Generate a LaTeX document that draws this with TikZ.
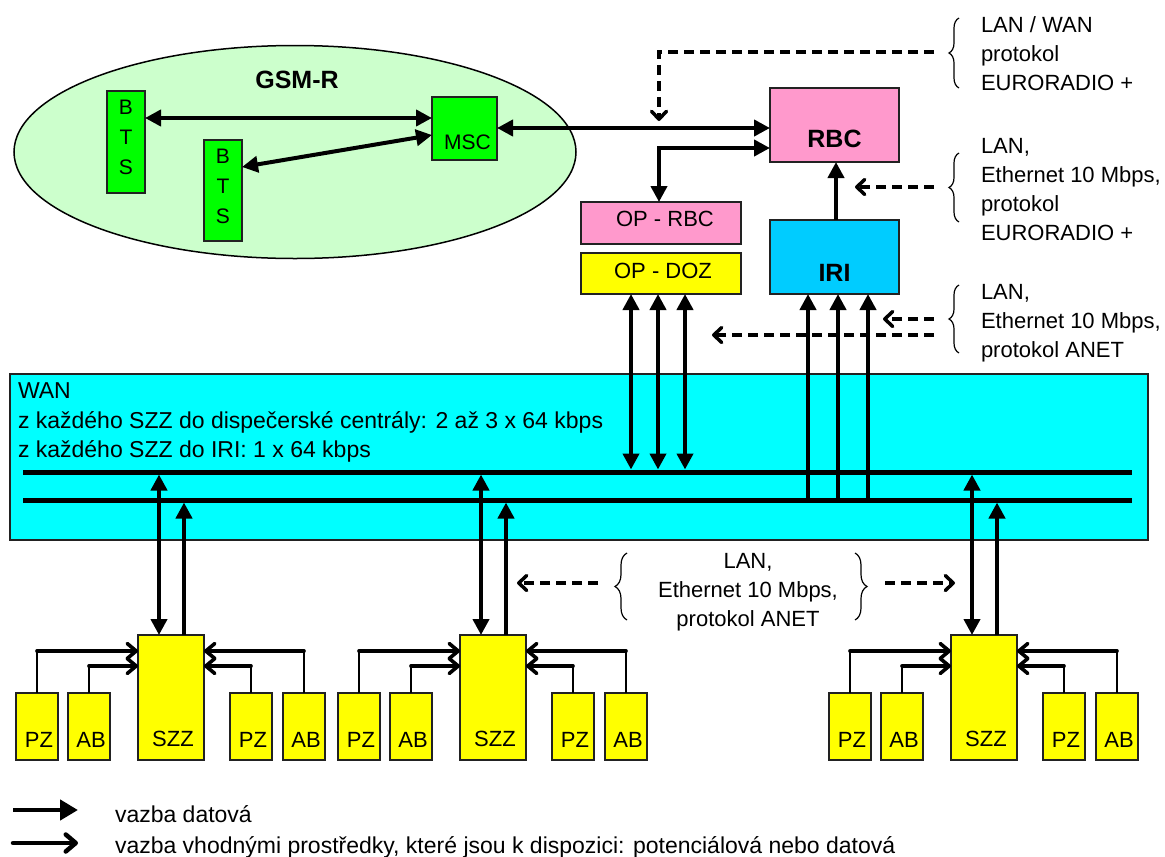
\documentclass[tikz,border=0pt]{standalone}
\usepackage{fontspec}
\setmainfont{Liberation Sans}
\usetikzlibrary{arrows.meta,calc,decorations.pathreplacing,shapes.geometric}

\definecolor{gsmbg}{HTML}{CCFFCC}
\definecolor{gsmbox}{HTML}{00FF00}
\definecolor{pinkbox}{HTML}{FF99CC}
\definecolor{yelbox}{HTML}{FFFF00}
\definecolor{iribox}{HTML}{00CCFF}
\definecolor{wanbox}{HTML}{00FFFF}
\definecolor{rim}{HTML}{222222}

\newcommand\fsz[1]{\fontsize{#1}{#1}\selectfont}

\tikzset{
  every node/.style={inner sep=0pt, outer sep=0pt},
  box/.style={draw=rim, line width=1.8pt, anchor=north west},
  txt/.style={font=\fsz{22}},
  wide/.style={font=\fsz{23}},
  bold/.style={font=\fsz{25}\bfseries},
  data/.style={line width=4pt, >={Triangle[length=16pt,width=16pt]}},
  feed/.style={line width=3.6pt, line cap=round, >={Straight Barb[length=9pt,width=15pt,round]}},
  riser/.style={line width=2pt},
  dsh/.style={line width=3.5pt, dash pattern=on 10pt off 6pt, >={Straight Barb[length=8pt,width=15pt,round]}},
  bus/.style={line width=5pt},
  brc/.style={line width=1.2pt, decorate, decoration={brace, amplitude=10pt}},
}

% one interlocking station: SZZ with its two PZ and two AB units
% #1 name suffix, #2 left edge of the SZZ box
\newcommand\stanice[2]{%
  \node[box, fill=yelbox, minimum width=42pt, minimum height=67pt] (pz1#1) at ({#2-122},693) {};
  \node[box, fill=yelbox, minimum width=42pt, minimum height=67pt] (ab1#1) at ({#2-70},693) {};
  \node[box, fill=yelbox, minimum width=66pt, minimum height=125pt] (szz#1) at (#2,635) {};
  \node[box, fill=yelbox, minimum width=42pt, minimum height=67pt] (pz2#1) at ({#2+92},693) {};
  \node[box, fill=yelbox, minimum width=42pt, minimum height=67pt] (ab2#1) at ({#2+145},693) {};
  \foreach \n/\lab in {pz1/PZ, ab1/AB, pz2/PZ, ab2/AB}{
    \node[txt] (\n#1-t) at ($(\n#1.center)+(2,13)$) {\lab};
  }
  \node[txt] (szz#1-t) at ($(szz#1.south)+(2,-21)$) {SZZ};
  % feeders from PZ and AB
  \coordinate (k1#1) at ($(pz1#1.north)+(0,-42)$);
  \coordinate (k2#1) at ($(ab1#1.north)+(0,-27)$);
  \coordinate (k3#1) at ($(pz2#1.north)+(0,-27)$);
  \coordinate (k4#1) at ($(ab2#1.north)+(0,-42)$);
  \draw[riser] (pz1#1.north) -- (k1#1);
  \draw[riser] (ab1#1.north) -- (k2#1);
  \draw[riser] (pz2#1.north) -- (k3#1);
  \draw[riser] (ab2#1.north) -- (k4#1);
  \draw[feed,->] (k1#1) -- (k1#1 -| szz#1.west);
  \draw[feed,->] (k2#1) -- (k2#1 -| szz#1.west);
  \draw[feed,->] (k3#1) -- (k3#1 -| szz#1.east);
  \draw[feed,->] (k4#1) -- (k4#1 -| szz#1.east);
  % links up to the WAN buses
  \coordinate (u1#1) at ($(szz#1.north west)+(21,0)$);
  \coordinate (u2#1) at ($(szz#1.north west)+(46,0)$);
  \draw[data,<->,shorten <=2.5pt] (u1#1 |- bus1w) -- (u1#1);
  \draw[data,->,shorten >=2.5pt] (u2#1) -- (u2#1 |- bus2w);
}

\begin{document}
\begin{tikzpicture}[x=1pt,y=-1pt]
\useasboundingbox (0,0) rectangle (1165,857);

% ---------------- GSM-R network ----------------
\node[ellipse, draw=black, line width=1.5pt, fill=gsmbg,
      minimum width=562pt, minimum height=213pt] (gsm) at (295,152) {};
\node[bold] (gsm-t) at (297,80) {GSM-R};

\node[box, fill=gsmbox, minimum width=38pt, minimum height=102pt] (bts1) at (107,91) {};
\node[box, fill=gsmbox, minimum width=38pt, minimum height=101pt] (bts2) at (204,140) {};
\node[box, fill=gsmbox, minimum width=65pt, minimum height=63pt] (msc) at (432,97) {};
\node[align=center, font=\fontsize{21}{30}\selectfont] (bts1-t) at ($(bts1.center)+(0,-5)$) {B\\T\\S};
\node[align=center, font=\fontsize{21}{30}\selectfont] (bts2-t) at ($(bts2.center)+(0,-4)$) {B\\T\\S};
\node[font=\fsz{21}] (msc-t) at ($(msc.center)+(3,14)$) {MSC};

% ---------------- RBC, IRI and operator posts ----------------
\node[box, fill=pinkbox, minimum width=129pt, minimum height=74pt] (rbc) at (770,88) {};
\node[bold] (rbc-t) at ($(rbc.center)+(0,14)$) {RBC};
\node[box, fill=iribox, minimum width=129pt, minimum height=74pt] (iri) at (770,220) {};
\node[bold] (iri-t) at ($(iri.center)+(0,16)$) {IRI};
\node[box, fill=pinkbox, minimum width=160pt, minimum height=42pt] (oprbc) at (581,202) {};
\node[txt] (oprbc-t) at ($(oprbc.center)+(4,-4)$) {OP - RBC};
\node[box, fill=yelbox, minimum width=160pt, minimum height=41pt] (opdoz) at (581,253) {};
\node[txt] (opdoz-t) at ($(opdoz.center)+(2,-3)$) {OP - DOZ};

% radio links inside GSM-R and on to RBC
\draw[data,<->] ($(bts1.north east)+(0,27)$) -- ($(msc.north west)+(0,21)$);
\draw[data,<->] ($(bts2.north east)+(0,27)$) -- ($(msc.north west)+(0,38)$);
\draw[data,<->] ($(msc.north east)+(0,31)$) -- ($(rbc.north west)+(0,40)$);
\draw[data,<->] ($(rbc.north west)+(0,60)$) -| ($(oprbc.north)+(-2,0)$);
\draw[data,->] ($(iri.north west)+(66,0)$) -- ($(rbc.south west)+(66,0)$);

% ---------------- WAN ----------------
\node[box, fill=wanbox, minimum width=1138pt, minimum height=166pt] (wan) at (10,374) {};
\node[wide, anchor=base west] (wan-1) at (18,398) {WAN};
\node[wide, anchor=base west] (wan-2) at (18,428) {z každého SZZ do dispečerské centrály: 2 až 3 x 64 kbps};
\node[wide, anchor=base west] (wan-3) at (18,457) {z každého SZZ do IRI: 1 x 64 kbps};

\coordinate (bus1w) at (23,472);  \coordinate (bus1e) at (1132,472);
\coordinate (bus2w) at (23,500);  \coordinate (bus2e) at (1132,500);
\draw[bus] (bus1w) -- (bus1e);
\draw[bus] (bus2w) -- (bus2e);

% operator posts and IRI hooked to the buses
\foreach \i/\dx in {1/50, 2/77, 3/104}{
  \coordinate (d\i) at ($(opdoz.south west)+(\dx,0)$);
  \draw[data,<->,shorten >=2.5pt] (d\i) -- (d\i |- bus1w);
}
\foreach \i/\dx in {1/38, 2/68, 3/98}{
  \coordinate (r\i) at ($(iri.south west)+(\dx,0)$);
  \draw[data,->] (r\i |- bus2w) -- (r\i);
}

% ---------------- stations ----------------
\stanice{a}{138}
\stanice{b}{460}
\stanice{c}{951}

% ---------------- interface notes ----------------
\coordinate (br1a) at (959,88);  \coordinate (br1b) at (959,18);
\coordinate (br2a) at (959,222); \coordinate (br2b) at (959,153);
\coordinate (br3a) at (959,353); \coordinate (br3b) at (959,285);
\draw[brc] (br1a) -- (br1b);
\draw[brc] (br2a) -- (br2b);
\draw[brc] (br3a) -- (br3b);

\coordinate (q1) at (934,52);   \coordinate (q1e) at (659,121);
\coordinate (q2) at (934,187);  \coordinate (q2e) at (855,187);
\coordinate (q3) at (934,319);  \coordinate (q3e) at (883,319);
\coordinate (q4) at (934,335);  \coordinate (q4e) at (712,335);
\draw[dsh,->] (q1) -| (q1e);
\draw[dsh,->] (q2) -- (q2e);
\draw[dsh,->] (q3) -- (q3e);
\draw[dsh,->] (q4) -- (q4e);

\node[txt, anchor=base west] (n1-1) at (981,32) {LAN / WAN};
\node[txt, anchor=base west] (n1-2) at (981,61) {protokol};
\node[txt, anchor=base west] (n1-3) at (981,90) {EURORADIO +};
\node[txt, anchor=base west] (n2-1) at (981,153) {LAN,};
\node[txt, anchor=base west] (n2-2) at (981,182) {Ethernet 10 Mbps,};
\node[txt, anchor=base west] (n2-3) at (981,211) {protokol};
\node[txt, anchor=base west] (n2-4) at (981,240) {EURORADIO +};
\node[txt, anchor=base west] (n3-1) at (981,299) {LAN,};
\node[txt, anchor=base west] (n3-2) at (981,328) {Ethernet 10 Mbps,};
\node[txt, anchor=base west] (n3-3) at (981,357) {protokol ANET};

% LAN between stations
\coordinate (bm1a) at (627,620); \coordinate (bm1b) at (627,553);
\coordinate (bm2a) at (855,553); \coordinate (bm2b) at (855,620);
\draw[brc, decoration={brace, amplitude=12pt}] (bm1a) -- (bm1b);
\draw[brc, decoration={brace, amplitude=12pt}] (bm2a) -- (bm2b);
\node[txt, anchor=base] (m-1) at (748,568) {LAN,};
\node[txt, anchor=base] (m-2) at (748,597) {Ethernet 10 Mbps,};
\node[txt, anchor=base] (m-3) at (748,626) {protokol ANET};
\coordinate (ml) at (598,583); \coordinate (mle) at (517,583);
\coordinate (mr) at (885,583); \coordinate (mre) at (955,583);
\draw[dsh,->] (ml) -- (mle);
\draw[dsh,->] (mr) -- (mre);

% ---------------- legend ----------------
\coordinate (lg1a) at (13,810); \coordinate (lg1b) at (78,810);
\coordinate (lg2a) at (13,843); \coordinate (lg2b) at (78,843);
\draw[line width=4.8pt, -{Triangle[length=18pt,width=20pt]}] (lg1a) -- (lg1b);
\draw[feed, line width=4.5pt, -{Straight Barb[length=10pt,width=17pt,round]}] (lg2a) -- (lg2b);
\node[wide, anchor=base west] (lg1-t) at (115,822) {vazba datová};
\node[wide, anchor=base west] (lg2-t) at (115,853) {vazba vhodnými prostředky, které jsou k dispozici: potenciálová nebo datová};
\end{tikzpicture}
\end{document}
